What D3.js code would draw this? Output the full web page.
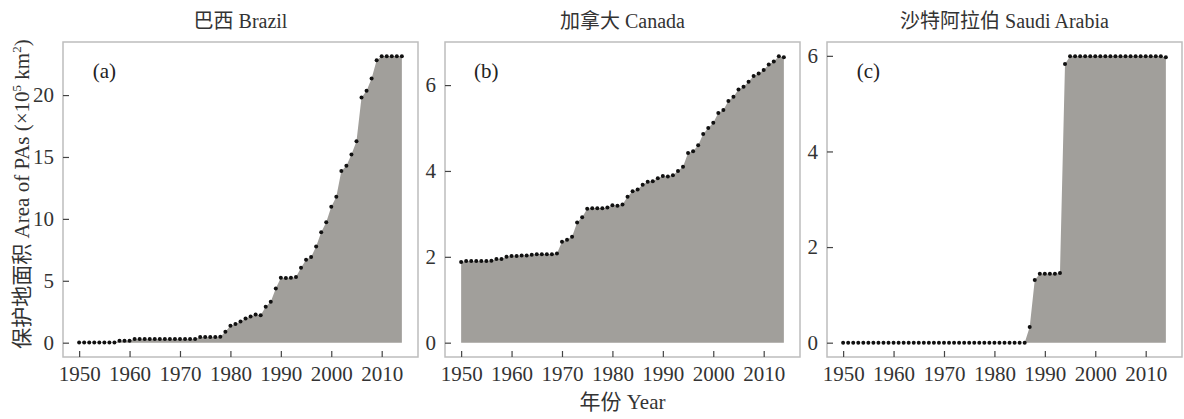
<!DOCTYPE html>
<html>
<head>
<meta charset="utf-8">
<script src="https://cdn.jsdelivr.net/npm/d3@7"></script>
<style>
  body { margin: 0; background: #fff; }
  svg { display: block; font-family: "Liberation Serif", "Noto Sans CJK SC", serif; }
  .tick text { font-size: 21px; fill: #333; }
  .tick line { stroke: #444; stroke-width: 1.2; }
</style>
</head>
<body>
<div class="js-vis"></div>
<script>
const years = d3.range(1950, 2015)

const brazil = [
  0.02, 0.02, 0.02, 0.02, 0.02, 0.02, 0.02, 0.02, 0.15, 0.15,
  0.15, 0.3, 0.3, 0.3, 0.3, 0.3, 0.3, 0.3, 0.3, 0.3,
  0.3, 0.3, 0.3, 0.3, 0.45, 0.45, 0.45, 0.45, 0.48, 0.88,
  1.36, 1.5, 1.71, 1.95, 2.11, 2.27, 2.22, 2.91, 3.31, 4.38,
  5.24, 5.22, 5.24, 5.3, 6.06, 6.7, 6.92, 7.77, 8.92, 9.72,
  10.98, 11.78, 13.86, 14.3, 15.2, 16.27, 19.8, 20.35, 21.34, 22.81,
  23.13, 23.13, 23.13, 23.13, 23.13
]

const canada = [
  1.88, 1.9, 1.9, 1.9, 1.9, 1.9, 1.91, 1.95, 1.95, 2.0,
  2.02, 2.02, 2.03, 2.03, 2.05, 2.06, 2.06, 2.06, 2.06, 2.08,
  2.35, 2.4, 2.47, 2.8, 2.92, 3.12, 3.13, 3.13, 3.13, 3.15,
  3.2, 3.19, 3.22, 3.4, 3.53, 3.57, 3.68, 3.75, 3.76, 3.83,
  3.88, 3.87, 3.9, 4.0, 4.1, 4.42, 4.46, 4.6, 4.86, 5.0,
  5.12, 5.35, 5.42, 5.63, 5.73, 5.9, 5.96, 6.08, 6.21, 6.27,
  6.35, 6.48, 6.55, 6.67, 6.65
]

const saudi = [
  0, 0, 0, 0, 0, 0, 0, 0, 0, 0,
  0, 0, 0, 0, 0, 0, 0, 0, 0, 0,
  0, 0, 0, 0, 0, 0, 0, 0, 0, 0,
  0, 0, 0, 0, 0, 0, 0, 0.33, 1.31, 1.44,
  1.44, 1.44, 1.44, 1.46, 5.83, 5.99, 5.99, 5.99, 5.99, 5.99,
  5.99, 5.99, 5.99, 5.99, 5.99, 5.99, 5.99, 5.99, 5.99, 5.99,
  5.99, 5.99, 5.99, 5.99, 5.97
]

const titles = ["巴西 Brazil", "加拿大 Canada", "沙特阿拉伯 Saudi Arabia"],
    tags = ["(a)", "(b)", "(c)"],
    xTicks = [1950, 1960, 1970, 1980, 1990, 2000, 2010],
    yTicks = [[0, 5, 10, 15, 20], [0, 2, 4, 6], [0, 2, 4, 6]],
    series = [brazil, canada, saudi]

const W = 1184, H = 419,
    lefts = [63, 445, 827],
    pw = 355,
    mTop = 42,
    ph = 315

const svg = d3.select(".js-vis").append("svg")
  .attr("width", W)
  .attr("height", H)

// ggplot-style 5% expansion
const expand = (lo, hi) => {
  const p = (hi - lo) * 0.05
  return [lo - p, hi + p]
}

series.forEach((vals, i) => {
  const x = d3.scaleLinear()
    .domain(expand(d3.min(years), d3.max(years)))
    .range([0, pw])

  const y = d3.scaleLinear()
    .domain(expand(0, d3.max(vals)))
    .range([ph, 0])

  const g = svg.append("g")
    .attr("transform", "translate(" + lefts[i] + "," + mTop + ")")

  const data = years.map((yr, j) => [yr, vals[j]])

  g.append("path")
    .datum(data)
    .attr("fill", "#a19f9b")
    .attr("d", d3.area()
      .x(d => x(d[0]))
      .y0(y(0))
      .y1(d => y(d[1])))

  g.append("g")
    .selectAll("circle")
    .data(data)
  .enter().append("circle")
    .attr("r", 2)
    .attr("cx", d => x(d[0]))
    .attr("cy", d => y(d[1]))
    .attr("fill", "#111")

  g.append("rect")
    .attr("width", pw)
    .attr("height", ph)
    .attr("fill", "none")
    .attr("stroke", "#bdbdbd")
    .attr("stroke-width", 1.5)

  const xax = g.append("g")
    .attr("transform", "translate(0," + ph + ")")
    .call(d3.axisBottom(x).tickValues(xTicks).tickFormat(d3.format("d")).tickSize(-6).tickPadding(9))

  const yax = g.append("g")
    .call(d3.axisLeft(y).tickValues(yTicks[i]).tickFormat(d3.format("d")).tickSize(-6).tickPadding(9))

  xax.select(".domain").remove()
  yax.select(".domain").remove()
  xax.attr("font-family", null).attr("font-size", null)
  yax.attr("font-family", null).attr("font-size", null)

  g.append("text")
    .attr("x", x(1955))
    .attr("y", 36)
    .attr("text-anchor", "middle")
    .style("font-size", "21px")
    .attr("fill", "#222")
    .text(tags[i])

  svg.append("text")
    .attr("x", lefts[i] + pw / 2)
    .attr("y", 28)
    .attr("text-anchor", "middle")
    .style("font-size", "20px")
    .attr("fill", "#333")
    .text(titles[i])
})

svg.append("text")
  .attr("x", lefts[1] + pw / 2)
  .attr("y", 409)
  .attr("text-anchor", "middle")
  .style("font-size", "21px")
  .attr("fill", "#333")
  .text("年份 Year")

const yt = svg.append("text")
  .attr("transform", "translate(29,194) rotate(-90)")
  .attr("text-anchor", "middle")
  .style("font-size", "21px")
  .attr("fill", "#333")

yt.append("tspan").text("保护地面积 Area of PAs (×10")
yt.append("tspan").attr("dy", -8).style("font-size", "13px").text("5")
yt.append("tspan").attr("dy", 8).text(" km")
yt.append("tspan").attr("dy", -8).style("font-size", "13px").text("2")
yt.append("tspan").attr("dy", 8).text(")")
</script>
</body>
</html>
